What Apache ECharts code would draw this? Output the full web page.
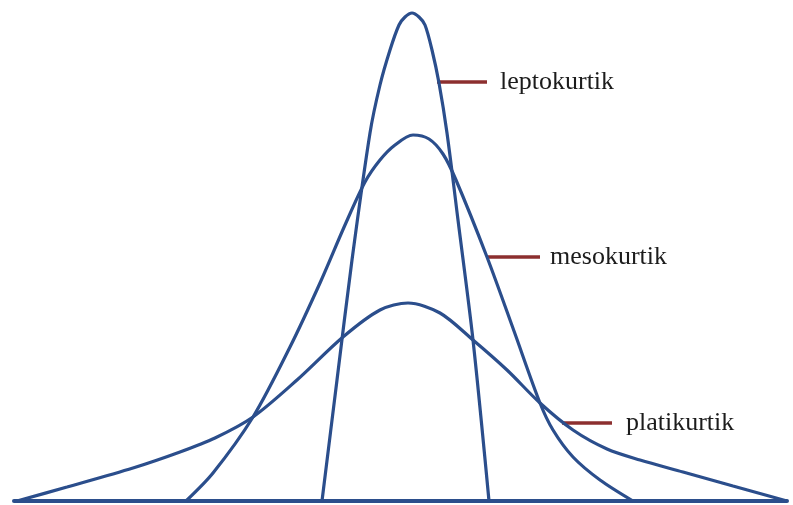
<!DOCTYPE html>
<html lang="en">
<head>
    <meta charset="UTF-8">
    <title>Kurtosis</title>
    <script src="https://cdn.jsdelivr.net/npm/echarts@6/dist/echarts.min.js"></script>
    <style>
        html, body { margin: 0; padding: 0; background: #fff; }
    </style>
</head>
<body>
    <div id="main" style="width: 793px; height: 505px;"></div>

    <script type="text/javascript">
        // curve points: [x, height above baseline]
        let leptokurtik = [
            [-87, 0], [-72, 121], [-57, 241], [-39, 368], [-29, 416], [-19, 451],
            [-10, 476], [-4, 484], [3, 488], [10, 484], [16, 476], [23, 451], [30, 418],
            [38, 368], [49, 281], [64, 161], [80, 0]
        ]
        let mesokurtik = [
            [-223, 0], [-196, 28], [-156, 84], [-119, 154], [-89, 218], [-64, 276],
            [-44, 319], [-29, 341], [-14, 356], [4, 366], [20, 362], [34, 347],
            [47, 321], [78, 244], [105, 170], [131, 98], [144, 71], [164, 44],
            [191, 21], [224, 0]
        ]
        let platikurtik = [
            [-392, 0], [-342, 14], [-276, 33], [-229, 49], [-194, 63], [-156, 84],
            [-112, 121], [-66, 164], [-29, 191], [-1, 198], [31, 188], [64, 161],
            [98, 131], [131, 98], [164, 71], [198, 52], [231, 41], [274, 29],
            [324, 15], [378, 0]
        ]

        // label leader lines
        let leptoLeader = [[28, 419], [78, 419]]
        let mesoLeader = [[79, 244], [131, 244]]
        let platiLeader = [[153, 78], [203, 78]]

        let curveColor = '#2b4e8c'
        let leaderColor = '#8c2f2f'

        function curve(name, data) {
            return {
                name: name,
                type: 'line',
                data: data,
                smooth: 0.3,
                showSymbol: false,
                lineStyle: {color: curveColor, width: 3.2},
                z: 3
            }
        }

        function leader(name, data, dist) {
            return {
                name: name,
                type: 'line',
                data: data,
                showSymbol: false,
                lineStyle: {color: leaderColor, width: 3.5},
                endLabel: {
                    show: true,
                    formatter: name,
                    distance: dist,
                    color: '#1c1c1c',
                    fontFamily: 'Liberation Serif',
                    fontSize: 26
                },
                z: 2
            }
        }

        let options = {
            animation: false,
            grid: {left: 14, right: 6, top: 10, bottom: 4},
            xAxis: {
                type: 'value',
                min: -395,
                max: 378,
                axisLine: {lineStyle: {color: curveColor, width: 4}},
                axisTick: {show: false},
                axisLabel: {show: false},
                splitLine: {show: false}
            },
            yAxis: {
                type: 'value',
                min: 0,
                max: 491,
                show: false
            },
            series: [
                curve('leptokurtik', leptokurtik),
                curve('mesokurtik', mesokurtik),
                curve('platikurtik', platikurtik),
                leader('leptokurtik', leptoLeader, 13),
                leader('mesokurtik', mesoLeader, 10),
                leader('platikurtik', platiLeader, 14)
            ]
        }

        let myChart = echarts.init(document.getElementById('main'))
        myChart.setOption(options)
    </script>
</body>
</html>
